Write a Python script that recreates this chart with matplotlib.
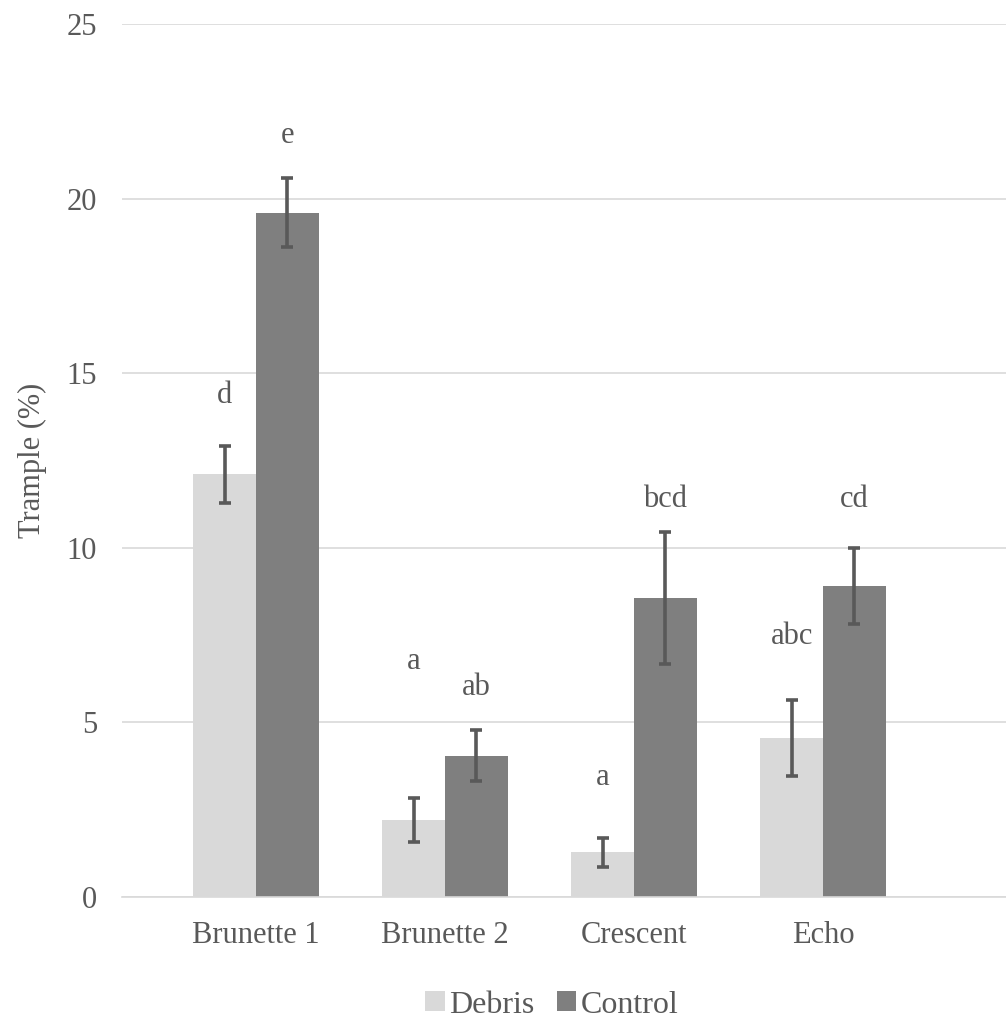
import matplotlib
matplotlib.use("Agg")
import matplotlib.pyplot as plt
import numpy as np

categories = ["Brunette 1", "Brunette 2", "Crescent", "Echo"]
debris = [12.1, 2.2, 1.28, 4.55]
debris_err = [0.82, 0.63, 0.42, 1.08]
control = [19.6, 4.05, 8.55, 8.9]
control_err = [1.0, 0.73, 1.89, 1.09]
debris_letters = ["d", "a", "a", "abc"]
control_letters = ["e", "ab", "bcd", "cd"]
debris_letter_y = [14.35, 6.73, 3.41, 7.47]
control_letter_y = [21.82, 5.99, 11.37, 11.37]
yticks = [0, 5, 10, 15, 20, 25]

plt.rcParams['font.family'] = ['Liberation Serif', 'DejaVu Serif']
text_color = "#595959"

fig = plt.figure(figsize=(10.06, 10.21), dpi=100)
ax = fig.add_axes([122/1006, 1-897/1021, 1-122/1006, (897-24)/1021])

x = np.arange(len(categories))
w = 0.331
off = w/2
ax.bar(x - off, debris, w, color="#d9d9d9", label="Debris", zorder=2)
ax.bar(x + off, control, w, color="#7f7f7f", label="Control", zorder=2)
ekw = dict(fmt="none", ecolor="#595959", elinewidth=2.6, capsize=4.3, capthick=2.6, zorder=3)
ax.errorbar(x - off, debris, yerr=debris_err, **ekw)
ax.errorbar(x + off, control, yerr=control_err, **ekw)

for i in range(len(categories)):
    ax.text(x[i] - off, debris_letter_y[i], debris_letters[i], ha="center", va="center",
            fontsize=22, color=text_color)
    ax.text(x[i] + off, control_letter_y[i], control_letters[i], ha="center", va="center",
            fontsize=22, color=text_color)

ax.set_ylim(0, 25)
ax.set_xlim((122-256)/189, (1006-256)/189)
ax.set_yticks(yticks)
ax.set_xticks(x)
ax.set_xticklabels(categories)
ax.grid(axis="y", color="#d9d9d9", linewidth=1.2, zorder=0)
ax.set_axisbelow(True)
for s in ["top", "right", "left"]:
    ax.spines[s].set_visible(False)
ax.spines["bottom"].set_color("#d9d9d9")
ax.spines["bottom"].set_linewidth(1.2)
ax.tick_params(axis="both", length=0, labelsize=22, labelcolor=text_color)
ax.tick_params(axis="y", pad=18)
ax.tick_params(axis="x", pad=17)
ax.set_ylabel("Trample (%)", fontsize=22, color=text_color, labelpad=14)

fig.legend(loc="center", bbox_to_anchor=(552/1006, 1-1005/1021), ncol=2, frameon=False,
           fontsize=23, labelcolor=text_color, handlelength=0.6, handleheight=0.6,
           handletextpad=0.15, columnspacing=0.7)

fig.savefig("out.png", dpi=100)
